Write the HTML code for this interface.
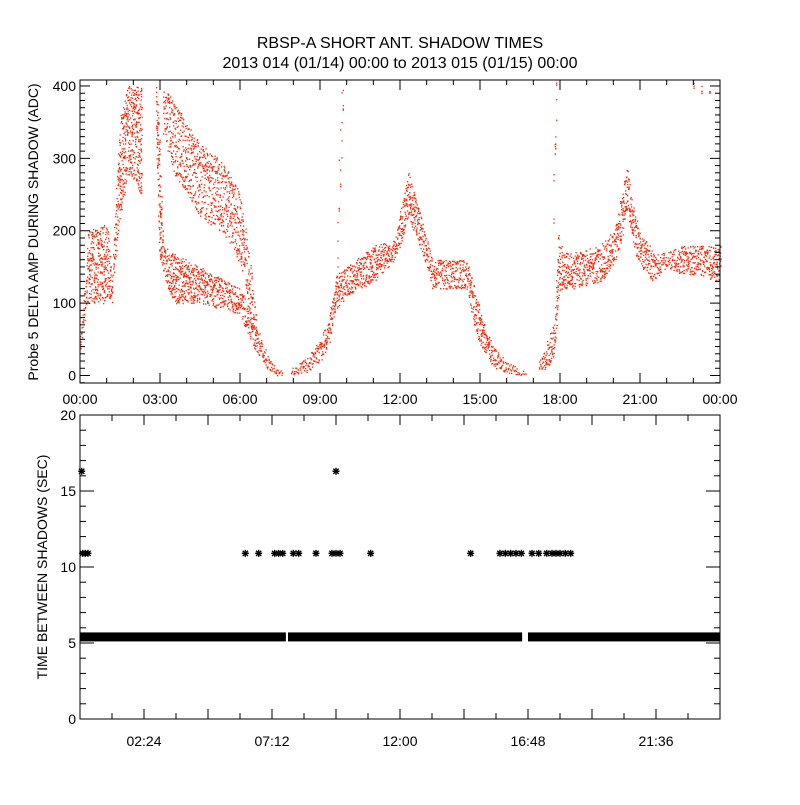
<!DOCTYPE html>
<html><head><meta charset="utf-8"><style>
html,body{margin:0;padding:0;background:#fff;}
svg text{font-family:"Liberation Sans",sans-serif;fill:#000;}
</style></head><body>
<svg id="chart" width="800" height="800" viewBox="0 0 800 800" xmlns="http://www.w3.org/2000/svg">
<rect width="800" height="800" fill="#fff"/>
<text x="400" y="48" font-size="16" text-anchor="middle">RBSP-A SHORT ANT. SHADOW TIMES</text>
<text x="400" y="68" font-size="16" text-anchor="middle">2013 014 (01/14) 00:00 to 2013 015 (01/15) 00:00</text>
<g id="topPanel"></g>
<g id="botPanel"></g>
</svg>
<script>
// ---- top panel data (hours, ADC band low/high) ----
const bandTimes = [0.0,0.2,0.3,1.0,1.2,1.3,1.5,1.8,2.3];
const bandLow   = [30, 90,100,100,100,150,220,280,250];
const bandHigh  = [60,140,200,210,140,230,360,400,400];
const band1bTimes = [2.85,2.95,3.1,3.5,4.5,5.5,6.0,6.5,7.0,7.4,7.6];
const band1bLow   = [300, 170,140,100,100, 90, 80, 40, 10,  0,  0];
const band1bHigh  = [400, 350,180,170,150,130,120, 80, 30, 10,  8];
const upperTimes = [3.1,3.5,4.5,5.5,6.0,6.4,6.6];
const upperLow   = [330,280,220,190,150, 80, 40];
const upperHigh  = [400,380,320,290,250,150, 80];
const band2Times = [7.9,8.5,9.0,9.3,9.6,10.0,11.0,11.8,12.0,12.3,12.7,13.0,13.2,14.0,14.5,14.7,15.0,15.5,16.0,16.5,16.7];
const band2Low   = [ 0,  5, 20, 40, 90, 110, 130, 160, 180, 220, 180, 150, 120, 120, 120,  80,  40,  10,   5,   0,   0];
const band2High  = [10, 25, 50, 80,140, 150, 180, 190, 230, 280, 230, 190, 160, 160, 160, 130,  90,  40,  20,   8,   6];
const band3Times = [17.2,17.5,17.8,17.9,18.0,18.5,19.5,20.0,20.3,20.5,20.7,21.0,21.5,22.0,22.5,23.0,24.0];
const band3Low   = [  0,  10,  30, 100, 120, 120, 130, 150, 190, 230, 180, 150, 130, 150, 140, 140, 130];
const band3High  = [ 20,  50,  80, 200, 180, 170, 180, 200, 250, 290, 240, 200, 170, 170, 180, 180, 180];
const spikeTimes = [9.65,9.7,9.75,9.8,9.85,17.75,17.8,17.82,17.85,23.0,23.3,23.6];
const spikeLow   = [150,200,250,300,350,200,250,300,350,390,390,385];
const spikeHigh  = [250,300,350,400,405,280,330,380,405,405,405,400];
// ---- bottom panel data ----
const baseSegStart = [0.0, 7.8, 16.8];
const baseSegEnd   = [7.72,16.58,24.0];
const baseValue = 5.4;
const star11Times = [0.1,0.2,0.3,6.2,6.7,7.3,7.45,7.6,8.0,8.2,8.85,9.45,9.6,9.75,10.9,14.65,15.75,15.95,16.15,16.35,16.55,16.95,17.2,17.5,17.7,17.85,18.0,18.2,18.4];
const star11Values = [10.9,10.9,10.9,10.9,10.9,10.9,10.9,10.9,10.9,10.9,10.9,10.9,10.9,10.9,10.9,10.9,10.9,10.9,10.9,10.9,10.9,10.9,10.9,10.9,10.9,10.9,10.9,10.9,10.9];
const star16Times = [0.1,9.6];
const star16Values = [16.3,16.3];
const topXTicks = ["00:00","03:00","06:00","09:00","12:00","15:00","18:00","21:00","00:00"];
const topYTicks = [0,100,200,300,400];
const botXTicks = ["02:24","07:12","12:00","16:48","21:36"];
const botYTicks = [0,5,10,15,20];

const NS="http://www.w3.org/2000/svg";
function mk(tag,attrs,parent){const e=document.createElementNS(NS,tag);for(const k in attrs)e.setAttribute(k,attrs[k]);parent.appendChild(e);return e;}
const L=80,R=720;
const xT=h=>L+h*(R-L)/24;
const T0=80,T1=383;
const yT=v=>375.5-v*0.7238;
const B0=415,B1=719;
const yB=v=>B1-v*(B1-B0)/20;

const topG=document.getElementById('topPanel');
const botG=document.getElementById('botPanel');

// ---- top scatter ----
function interp(ts,arr,h){for(let i=0;i<ts.length-1;i++){if(h>=ts[i]&&h<=ts[i+1]){const f=(h-ts[i])/(ts[i+1]-ts[i]);return arr[i]+f*(arr[i+1]-arr[i]);}}return null;}
function hash(n){let x=Math.sin(n*12.9898+78.233)*43758.5453;return x-Math.floor(x);}
const dots=mk('g',{fill:'#ff2000'},topG);


let seed=1;
function fillBand(ts,lo,hi,density){
  const h0=ts[0],h1=ts[ts.length-1];
  for(let px=Math.ceil(xT(h0));px<=xT(h1);px++){
    const h=(px-L)*24/(R-L);
    const a=interp(ts,lo,h),b=interp(ts,hi,h);
    if(a===null)continue;
    const n=Math.max(1,Math.round((b-a)*0.7238*density));
    for(let k=0;k<n;k++){
      seed++;
      const v=a+hash(seed)*(b-a);
      const y=yT(Math.min(v,408));
      if(y<T0)continue;
      mk('rect',{x:px+(hash(seed+.5)>.5?0:0.5),y:y,width:1.3,height:1.3},dots);
    }
  }
}
fillBand(bandTimes,bandLow,bandHigh,0.18);
fillBand(band1bTimes,band1bLow,band1bHigh,0.22);
fillBand(upperTimes,upperLow,upperHigh,0.14);
fillBand(band2Times,band2Low,band2High,0.22);
fillBand(band3Times,band3Low,band3High,0.2);
for(let i=0;i<spikeTimes.length;i++){
  for(let k=0;k<4;k++){seed++;const v=spikeLow[i]+hash(seed)*(spikeHigh[i]-spikeLow[i]);
    const y=yT(v); if(y<T0)continue;
    mk('rect',{x:xT(spikeTimes[i]),y:y,width:1.3,height:1.3},dots);}
}

// ---- top axes ----
const tbox=mk('rect',{x:L,y:T0,width:R-L,height:T1-T0,fill:'none',stroke:'#000','stroke-width':1},topG);


const tt=mk('g',{stroke:'#000','stroke-width':1},topG);
for(let h=0;h<=24;h++){const maj=h%3===0;const len=maj?10:5;const x=xT(h);
  mk('line',{x1:x,y1:T1,x2:x,y2:T1-len},tt);mk('line',{x1:x,y1:T0,x2:x,y2:T0+len},tt);}
for(let v=-10;v<=400;v+=10){const maj=v%100===0;const len=maj?10:5;const y=yT(v);if(y<T0||y>T1)continue;
  mk('line',{x1:L,y1:y,x2:L+len,y2:y},tt);mk('line',{x1:R,y1:y,x2:R-len,y2:y},tt);}
topXTicks.forEach((s,i)=>{const t=mk('text',{x:xT(i*3),y:404,'font-size':14,'text-anchor':'middle'},topG);t.textContent=s;
  });
topYTicks.forEach(v=>{const t=mk('text',{x:76,y:yT(v)+5,'font-size':14,'text-anchor':'end'},topG);t.textContent=v;
  });
const ty=mk('text',{x:0,y:0,'font-size':14,'text-anchor':'middle',transform:'translate(38,232) rotate(-90)'},topG);
ty.textContent='Probe 5 DELTA AMP DURING SHADOW (ADC)';


// ---- bottom marks ----
const bm=mk('g',{fill:'#000'},botG);


for(let i=0;i<baseSegStart.length;i++){
  const r=mk('rect',{x:xT(baseSegStart[i]),y:yB(baseValue)-4.5,width:xT(baseSegEnd[i])-xT(baseSegStart[i]),height:9},bm);
  
}
function star(x,y,g){const s=3.5;const st=mk('g',{stroke:'#000','stroke-width':1.4},g);
  
  mk('line',{x1:x-s,y1:y,x2:x+s,y2:y},st);mk('line',{x1:x,y1:y-s,x2:x,y2:y+s},st);
  mk('line',{x1:x-s*.75,y1:y-s*.75,x2:x+s*.75,y2:y+s*.75},st);mk('line',{x1:x-s*.75,y1:y+s*.75,x2:x+s*.75,y2:y-s*.75},st);}
star11Times.forEach((h,i)=>star(xT(h),yB(star11Values[i]),bm));
star16Times.forEach((h,i)=>star(xT(h)+(i===0?-1:0),yB(star16Values[i]),bm));
// ---- bottom axes ----
const bbox=mk('rect',{x:L,y:B0,width:R-L,height:B1-B0,fill:'none',stroke:'#000','stroke-width':1},botG);

const bt=mk('g',{stroke:'#000','stroke-width':1},botG);
for(let k=0;k<=20;k++){const h=k*1.2;const maj=k%2===0;const len=maj?10:6;const x=xT(h);
  mk('line',{x1:x,y1:B1,x2:x,y2:B1-len},bt);mk('line',{x1:x,y1:B0,x2:x,y2:B0+len},bt);}
for(let v=0;v<=20;v++){const maj=v%5===0;const len=maj?14:6;const y=yB(v);
  mk('line',{x1:L,y1:y,x2:L+len,y2:y},bt);mk('line',{x1:R,y1:y,x2:R-len,y2:y},bt);}
botXTicks.forEach((s,i)=>{const t=mk('text',{x:xT(2.4+i*4.8),y:746,'font-size':14,'text-anchor':'middle'},botG);t.textContent=s;
  });
botYTicks.forEach(v=>{const t=mk('text',{x:76,y:yB(v)+5,'font-size':14,'text-anchor':'end'},botG);t.textContent=v;
  });
const by=mk('text',{x:0,y:0,'font-size':14,'text-anchor':'middle',transform:'translate(47,567) rotate(-90)'},botG);
by.textContent='TIME BETWEEN SHADOWS (SEC)';

</script>
</body></html>
